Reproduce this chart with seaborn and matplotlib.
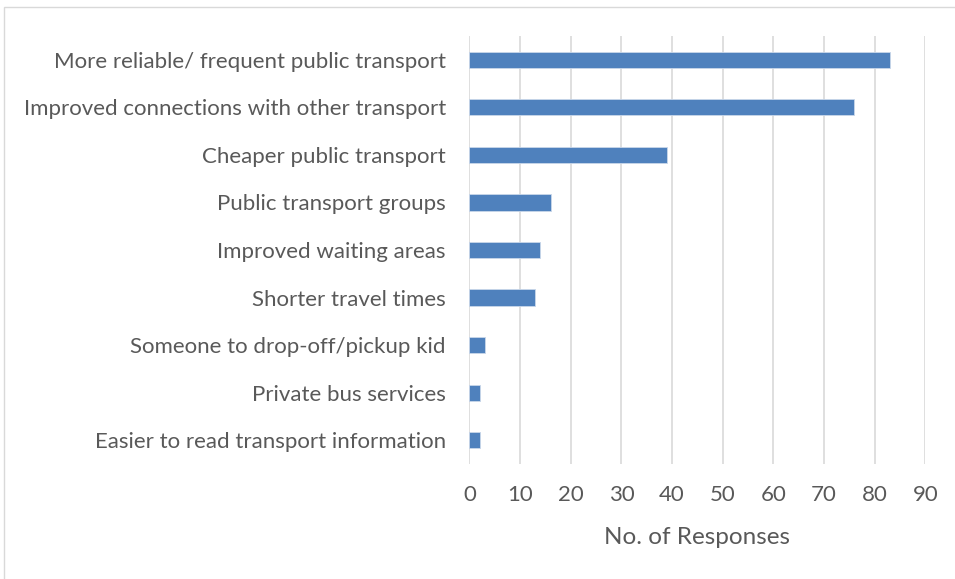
import matplotlib
matplotlib.use("Agg")
import matplotlib.pyplot as plt
import seaborn as sns
import pandas as pd
from matplotlib.patches import Rectangle

categories = [
    "More reliable/ frequent public transport",
    "Improved connections with other transport",
    "Cheaper public transport",
    "Public transport groups",
    "Improved waiting areas",
    "Shorter travel times",
    "Someone to drop-off/pickup kid",
    "Private bus services",
    "Easier to read transport information",
]
responses = [83, 76, 39, 16, 14, 13, 3, 2, 2]
x_ticks = [0, 10, 20, 30, 40, 50, 60, 70, 80, 90]
x_label = "No. of Responses"

sns.set_theme(style="white")
plt.rcParams["font.family"] = ["Lato", "DejaVu Sans"]

df = pd.DataFrame({"category": categories, "responses": responses})

fig = plt.figure(figsize=(9.55, 5.79), dpi=100)
ax = fig.add_axes([0.4916, 0.1986, 0.4773, 0.7392])

sns.barplot(data=df, x="responses", y="category", order=categories,
            color="#4F81BD", width=0.34, edgecolor="#C9D7EA", linewidth=0.6,
            saturation=1, ax=ax, zorder=3)

ax.set_xlim(0, 90)
ax.set_ylim(8.5, -0.5)
ax.set_xticks(x_ticks)
ax.set_xticklabels([str(t) for t in x_ticks])
ax.grid(axis="x", color="#D9D9D9", linewidth=1.2, zorder=0)
ax.grid(axis="y", visible=False)
for s in ax.spines.values():
    s.set_visible(False)
ax.tick_params(axis="both", length=0, labelsize=16, labelcolor="#595959")
ax.tick_params(axis="x", pad=15)
ax.tick_params(axis="y", pad=17)
ax.set_ylabel("")
ax.set_xlabel(x_label, fontsize=17.5, color="#595959", labelpad=16)

# outer chart frame
fig.patches.append(Rectangle((4 / 955, -0.01), 1.0, 1 - 7 / 579 + 0.01,
                             transform=fig.transFigure, fill=False,
                             edgecolor="#D9D9D9", linewidth=1.0))

fig.savefig("out.png", dpi=100, facecolor="white")
